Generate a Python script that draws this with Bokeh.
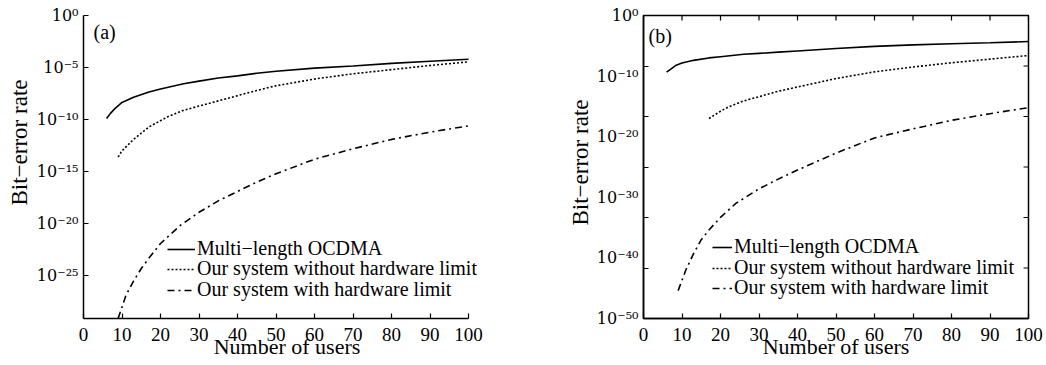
import numpy as np
from bokeh.plotting import figure
from bokeh.models import FixedTicker, CustomJSTickFormatter, Label, Title, Legend, LegendItem
from bokeh.layouts import row
from bokeh.embed import file_html
from bokeh.resources import INLINE

# ---------------- data (log10 of bit-error rate) ----------------
users_a_multi = [6, 7, 8, 10, 13, 17, 20, 26, 30, 35, 40, 45, 50, 60, 70, 80, 90, 100]
log_ber_a_multi = [-9.9, -9.4, -9.0, -8.35, -7.85, -7.35, -7.05, -6.55, -6.3, -6.0, -5.8,
                   -5.55, -5.35, -5.05, -4.85, -4.6, -4.4, -4.2]

users_a_nohw = [9, 10, 13, 15, 17, 20, 22, 26, 30, 35, 40, 45, 50, 60, 70, 80, 90, 100]
log_ber_a_nohw = [-13.6, -13.0, -11.9, -11.3, -10.7, -10.1, -9.7, -9.1, -8.7, -8.2, -7.7,
                  -7.2, -6.75, -6.1, -5.6, -5.2, -4.8, -4.45]

users_a_hw = [9, 10, 11, 13, 15, 17, 20, 25, 30, 35, 40, 45, 50, 60, 70, 80, 90, 100]
log_ber_a_hw = [-29.1, -28.0, -26.9, -25.5, -24.3, -23.3, -21.9, -20.2, -18.9, -17.8, -16.9,
                -16.0, -15.2, -13.8, -12.8, -11.9, -11.2, -10.6]

users_b_multi = [6, 7, 8.5, 10, 13, 17, 20, 26, 30, 35, 40, 45, 50, 60, 70, 80, 90, 100]
log_ber_b_multi = [-9.35, -8.9, -8.2, -7.85, -7.4, -7.0, -6.8, -6.4, -6.25, -6.05, -5.85,
                   -5.65, -5.45, -5.1, -4.85, -4.65, -4.5, -4.3]

users_b_nohw = [17, 20, 22, 26, 30, 35, 40, 45, 50, 60, 70, 80, 90, 100]
log_ber_b_nohw = [-17.0, -15.8, -15.1, -14.1, -13.4, -12.5, -11.8, -11.1, -10.4, -9.3, -8.5,
                  -7.8, -7.2, -6.6]

users_b_hw = [9, 11, 13, 15, 17, 20, 24, 30, 35, 40, 45, 50, 60, 70, 80, 90, 100]
log_ber_b_hw = [-45.4, -42.0, -39.3, -37.0, -35.4, -33.3, -31.0, -28.6, -27.0, -25.5, -24.1,
                -22.7, -20.2, -18.7, -17.3, -16.2, -15.2]

x_ticks = [0, 10, 20, 30, 40, 50, 60, 70, 80, 90, 100]
x_axis_span = (0, 100)
y_tick_exp_a = [0, -5, -10, -15, -20, -25]
y_range_exp_a = (-29.1, 0)
y_tick_exp_b = [0, -10, -20, -30, -40, -50]
y_mark_exp_b = [0, -50 / 6, -100 / 6, -25, -200 / 6, -250 / 6, -50]
y_range_exp_b = (-50, 0)

series_names = ["Multi\u2212length OCDMA",
                "Our system without hardware limit",
                "Our system with hardware limit"]
panel_tags = ["(a)", "(b)"]
x_title = "Number of users"
y_title = "Bit\u2212error rate"

FONT = "Liberation Serif"
YFONT = "DejaVu Serif"
TICK_FS = "19px"
YTICK_FS = "16px"
LEG_FS = "20px"
LABEL_FS = "22px"
YLABEL_FS = "23px"

sup_code = """
const sup = {"0":"\u2070","1":"\u00b9","2":"\u00b2","3":"\u00b3","4":"\u2074","5":"\u2075",
             "6":"\u2076","7":"\u2077","8":"\u2078","9":"\u2079","-":"\u207b"};
const e = Math.round(Math.log10(tick)).toString();
return "10" + e.split("").map(c => sup[c]).join("");
"""


def pw(exps):
    return [10.0 ** e for e in exps]


def style_axis(ax, font, size, standoff):
    ax.axis_line_color = "black"
    ax.axis_line_width = 1.5
    ax.major_tick_line_color = "black"
    ax.major_tick_line_width = 1.2
    ax.minor_tick_line_color = "black"
    ax.minor_tick_line_width = 1.2
    ax.major_tick_in = 5
    ax.major_tick_out = 0
    ax.minor_tick_in = 0
    ax.minor_tick_out = 0
    ax.major_label_text_font = font
    ax.major_label_text_font_size = size
    ax.major_label_text_color = "black"
    ax.major_label_standoff = standoff


def make_panel(width, bl, br, x_end, yr, tick_exp, mark_exp, data, tag, tag_xy,
               legend_x, legend_ys, glyph_w, ylab_offset, ylab_standoff, boxed):
    p = figure(width=width, height=365, x_range=(0, x_end),
               y_range=(10.0 ** yr[0], 10.0 ** yr[1]), y_axis_type="log",
               output_backend="svg", toolbar_location=None,
               min_border_left=bl, min_border_right=br, min_border_top=15,
               min_border_bottom=47)
    p.grid.visible = False
    p.background_fill_color = "white"
    p.border_fill_color = "white"
    if boxed:
        p.outline_line_color = "black"
        p.outline_line_width = 1.5
    else:
        p.outline_line_color = None

    xa = p.xaxis[0]
    xa.ticker = FixedTicker(ticks=x_ticks)
    xa.bounds = x_axis_span
    style_axis(xa, FONT, TICK_FS, 9)
    xa.axis_label = x_title
    xa.axis_label_text_font = FONT
    xa.axis_label_text_font_size = LABEL_FS
    xa.axis_label_text_font_style = "normal"
    xa.axis_label_text_color = "black"
    xa.axis_label_standoff = -10

    ya = p.yaxis[0]
    ya.ticker = FixedTicker(ticks=pw(tick_exp), minor_ticks=pw(mark_exp) if mark_exp else [])
    ya.formatter = CustomJSTickFormatter(code=sup_code)
    style_axis(ya, YFONT, YTICK_FS, 5)
    if mark_exp:
        ya.major_tick_in = 0
        ya.minor_tick_in = 5

    if boxed:
        # inward tick marks on the top and right frame edges (clipped to the frame)
        top_y = [10.0 ** yr[1]] * len(x_ticks)
        p.scatter(x_ticks, top_y, marker="dash", size=10, angle=np.pi / 2,
                  line_color="black", line_width=1.2)
        marks = pw(mark_exp)
        p.scatter([x_axis_span[1]] * len(marks), marks, marker="dash", size=10,
                  line_color="black", line_width=1.2)

    t = Title(text=y_title, align="left", offset=ylab_offset, standoff=ylab_standoff,
              text_font=FONT, text_font_size=YLABEL_FS, text_font_style="normal",
              text_color="black")
    p.add_layout(t, "left")

    dashes = ["solid", "2 2", "7 4 2 4"]
    for (xs, ys), name, dash, ly in zip(data, series_names, dashes, legend_ys):
        r = p.line(xs, pw(ys), line_color="black", line_width=1.6, line_dash=dash)
        lg = Legend(items=[LegendItem(label=name, renderers=[r])], location=(legend_x, ly))
        lg.background_fill_alpha = 0
        lg.border_line_color = None
        lg.padding = 0
        lg.margin = 0
        lg.spacing = 0
        lg.label_standoff = 2
        lg.glyph_width = glyph_w
        lg.glyph_height = 18
        lg.label_height = 18
        lg.label_text_font = FONT
        lg.label_text_font_size = LEG_FS
        lg.label_text_color = "black"
        p.add_layout(lg)

    p.add_layout(Label(x=tag_xy[0], y=tag_xy[1], x_units="screen", y_units="screen",
                       text=tag, text_font=FONT, text_font_size=LEG_FS,
                       text_color="black", text_baseline="middle"))
    return p


pa = make_panel(548, 83, 58, 105.7, y_range_exp_a, y_tick_exp_a, None,
                [(users_a_multi, log_ber_a_multi), (users_a_nohw, log_ber_a_nohw),
                 (users_a_hw, log_ber_a_hw)],
                panel_tags[0], (10, 287), 84, [58, 38, 17], 28, 113, 4, False)
pb = make_panel(498, 95, 18, 100, y_range_exp_b, y_tick_exp_b, y_mark_exp_b,
                [(users_b_multi, log_ber_b_multi), (users_b_nohw, log_ber_b_nohw),
                 (users_b_hw, log_ber_b_hw)],
                panel_tags[1], (5, 283), 69, [60, 39, 19], 20, 93, 2, True)

layout = row(pa, pb)
open("out.html", "w").write(file_html(layout, INLINE))
